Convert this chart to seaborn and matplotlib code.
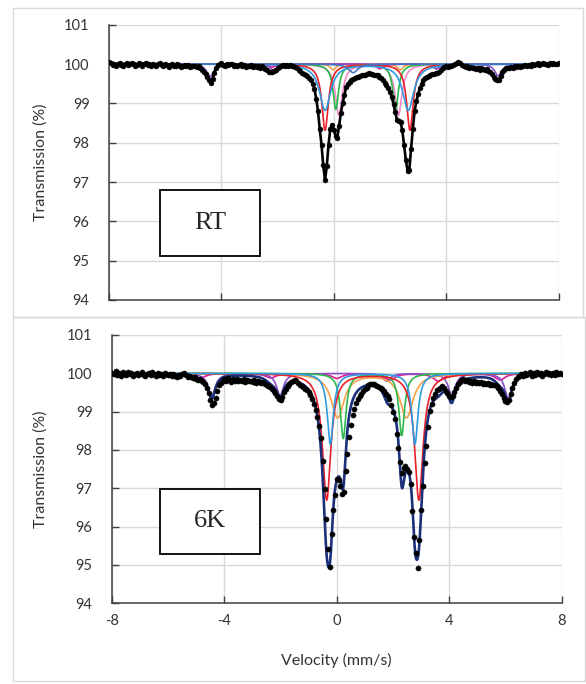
import numpy as np
import matplotlib
matplotlib.use("Agg")
import matplotlib.pyplot as plt
from matplotlib.patches import Rectangle
import seaborn as sns

# velocity channels (mm/s)
velocity = np.arange(257) * 0.0625 - 8.0

# measured transmission (%) - room temperature
rt_data = [
    100.05, 100.02, 99.98, 100.01, 99.96, 99.99, 100.03, 99.97, 99.95, 100.00, 100.02, 99.97, 99.99, 100.03, 100.01, 99.96,
    99.98, 100.02, 100.00, 99.95, 99.99, 100.03, 99.97, 100.00, 99.96, 100.01, 99.98, 99.94, 99.99, 100.02, 99.97, 99.96,
    100.00, 99.97, 99.93, 99.98, 100.01, 99.96, 99.95, 99.99, 99.97, 99.92, 99.96, 99.98, 99.94, 99.97, 99.93, 99.95,
    99.96, 99.94, 99.92, 99.95, 99.90, 99.86, 99.80, 99.74, 99.68, 99.60, 99.52, 99.63, 99.78, 99.90, 99.97, 99.99,
    100.02, 99.98, 99.95, 100.00, 99.97, 99.99, 100.01, 99.96, 99.98, 99.94, 99.97, 99.99, 99.95, 99.97, 99.93, 99.96,
    99.94, 99.97, 99.92, 99.95, 99.93, 99.96, 99.91, 99.94, 99.90, 99.87, 99.84, 99.81, 99.79, 99.80, 99.83, 99.86,
    99.90, 99.93, 99.95, 99.97, 99.96, 99.98, 99.95, 99.97, 99.94, 99.96, 99.93, 99.90, 99.86, 99.82, 99.77, 99.75,
    99.72, 99.69, 99.65, 99.59, 99.50, 99.36, 99.12, 98.80, 98.35, 97.95, 97.42, 97.05, 97.40, 97.95, 98.35, 98.46,
    98.33, 98.17, 98.12, 98.42, 98.75, 99.00, 99.20, 99.42, 99.50, 99.55, 99.59, 99.62, 99.65, 99.67, 99.68, 99.70,
    99.71, 99.72, 99.72, 99.74, 99.76, 99.75, 99.74, 99.73, 99.72, 99.71, 99.68, 99.65, 99.60, 99.53, 99.46, 99.38,
    99.28, 99.16, 98.98, 98.78, 98.57, 98.54, 98.52, 98.32, 97.95, 97.57, 97.28, 97.30, 97.85, 98.35, 98.80, 99.05,
    99.24, 99.38, 99.50, 99.59, 99.64, 99.68, 99.70, 99.72, 99.74, 99.75, 99.76, 99.77, 99.80, 99.84, 99.90, 99.93,
    99.95, 99.93, 99.96, 99.94, 99.97, 99.99, 100.03, 100.06, 100.02, 99.97, 99.95, 99.92, 99.94, 99.90, 99.92, 99.89,
    99.91, 99.88, 99.90, 99.86, 99.89, 99.87, 99.84, 99.87, 99.83, 99.80, 99.75, 99.68, 99.62, 99.60, 99.60, 99.70,
    99.80, 99.86, 99.89, 99.91, 99.90, 99.93, 99.91, 99.94, 99.92, 99.95, 99.93, 99.96, 99.94, 99.97, 99.95, 99.98,
    99.96, 100.00, 99.97, 99.99, 100.02, 99.98, 100.00, 100.03, 99.99, 100.01, 99.98, 100.02, 100.00, 100.03, 99.99, 100.01,
    100.02,
]

# measured transmission (%) - 6 K
k6_data = [
    100.02, 99.98, 100.05, 99.96, 100.01, 99.94, 100.03, 99.99, 99.95, 100.04, 99.97, 100.00, 99.93, 99.98, 100.02, 99.96,
    99.99, 100.03, 99.95, 99.92, 99.98, 100.01, 99.96, 100.04, 99.97, 99.93, 100.00, 99.96, 99.99, 99.94, 100.02, 99.97,
    99.95, 99.99, 99.92, 99.97, 99.94, 99.90, 99.96, 99.93, 99.98, 100.01, 99.95, 99.91, 99.94, 99.90, 99.87, 99.91,
    99.86, 99.83, 99.85, 99.80, 99.78, 99.72, 99.62, 99.48, 99.30, 99.18, 99.22, 99.35, 99.55, 99.70, 99.76, 99.80,
    99.84, 99.80, 99.87, 99.83, 99.78, 99.85, 99.81, 99.86, 99.79, 99.83, 99.80, 99.84, 99.77, 99.82, 99.79, 99.81,
    99.78, 99.82, 99.76, 99.80, 99.77, 99.74, 99.78, 99.72, 99.70, 99.68, 99.64, 99.60, 99.55, 99.48, 99.40, 99.33,
    99.30, 99.38, 99.50, 99.60, 99.66, 99.72, 99.78, 99.80, 99.82, 99.79, 99.76, 99.69, 99.67, 99.64, 99.60, 99.56,
    99.50, 99.44, 99.34, 99.20, 99.04, 98.86, 98.62, 98.30, 97.70, 96.98, 96.20, 95.42, 94.95, 95.80, 96.43, 96.83,
    97.25, 97.22, 97.05, 96.85, 96.90, 97.45, 97.90, 98.35, 98.65, 98.90, 99.08, 99.22, 99.32, 99.40, 99.47, 99.53,
    99.58, 99.61, 99.70, 99.73, 99.72, 99.71, 99.70, 99.68, 99.65, 99.61, 99.58, 99.53, 99.47, 99.41, 99.32, 99.18,
    99.00, 98.80, 98.42, 98.05, 97.69, 97.40, 97.52, 97.57, 97.50, 97.42, 97.10, 96.40, 95.72, 95.32, 94.92, 95.65,
    96.43, 97.05, 97.65, 98.10, 98.60, 99.02, 99.20, 99.35, 99.46, 99.56, 99.60, 99.62, 99.66, 99.62, 99.55, 99.48,
    99.42, 99.37, 99.40, 99.50, 99.62, 99.72, 99.78, 99.82, 99.85, 99.80, 99.83, 99.78, 99.81, 99.76, 99.80, 99.75,
    99.78, 99.74, 99.77, 99.72, 99.75, 99.71, 99.74, 99.70, 99.73, 99.69, 99.70, 99.66, 99.62, 99.55, 99.46, 99.36,
    99.28, 99.24, 99.30, 99.45, 99.62, 99.76, 99.85, 99.90, 99.93, 99.97, 99.92, 100.02, 99.95, 99.99, 100.04, 99.94,
    100.00, 99.96, 100.03, 99.98, 100.01, 99.93, 99.99, 100.04, 99.97, 100.02, 99.95, 100.00, 99.96, 100.03, 99.98, 100.01,
    99.99,
]

# fitted sub-spectra: line positions (mm/s), depths (%), half widths (mm/s)
rt_red_pos, rt_red_depth, rt_red_hw = [-0.31, 2.71], [1.68, 1.68], 0.14
rt_blue_pos, rt_blue_depth, rt_blue_hw = [-0.31, 2.65], [1.17, 1.17], 0.24
rt_green_pos, rt_green_depth, rt_green_hw = [0.07, 2.20], [1.15, 1.15], 0.12
rt_pink_pos, rt_pink_depth, rt_pink_hw = [0.18, 2.30], [1.30, 1.30], 0.15
rt_orange_pos, rt_orange_depth, rt_orange_hw = [-0.02, 2.36], [0.15, 0.15], 0.12
rt_steel_pos, rt_steel_depth, rt_steel_hw = [0.69], [0.22], 0.20
rt_magenta_pos, rt_magenta_depth, rt_magenta_hw = [-2.20, 1.64, 3.66], [0.08, 0.12, 0.12], 0.15
rt_purple_pos, rt_purple_depth, rt_purple_hw = [-4.40, -2.15, 3.66, 5.85], [0.32, 0.15, 0.12, 0.30], 0.15

k6_red_pos, k6_red_depth, k6_red_hw = [-0.36, 2.92], [3.30, 3.30], 0.18
k6_blue_pos, k6_blue_depth, k6_blue_hw = [-0.23, 2.78], [1.85, 1.85], 0.13
k6_orange_pos, k6_orange_depth, k6_orange_hw = [0.03, 2.48], [1.15, 1.15], 0.28
k6_green_pos, k6_green_depth, k6_green_hw = [0.23, 2.31], [1.70, 1.62], 0.12
k6_purple_pos, k6_purple_depth, k6_purple_hw = [-4.45, -2.02, 1.78, 4.09, 6.10], [0.62, 0.58, 0.20, 0.58, 0.65], 0.15
k6_magenta_pos, k6_magenta_depth, k6_magenta_hw = [-4.85, -2.35, 0.00, 1.89, 3.61, 5.81], [0.12, 0.12, 0.13, 0.17, 0.20, 0.17], 0.22

RED, BLUE, GREEN, PINK = "#e8202a", "#2e9ae0", "#2db84d", "#f28cc8"
ORANGE, STEEL, MAGENTA, PURPLE = "#f5a04a", "#4472c4", "#e6199b", "#8b4fc7"
NAVY = "#1b2f7a"

vfine = np.linspace(-8, 8, 1601)


def lorentz_sum(pos, depth, hw):
    out = np.zeros_like(vfine)
    for c, d in zip(pos, depth):
        out += d * hw**2 / ((vfine - c) ** 2 + hw**2)
    return out


sns.set_style("white")
plt.rcParams["font.family"] = ["Lato", "DejaVu Sans"]
plt.rcParams["axes.unicode_minus"] = False

fig = plt.figure(figsize=(5.86, 6.84), dpi=100)

# chart area borders
fig.add_artist(Rectangle((13 / 586, 1 - 317 / 684), 570 / 586, 309 / 684, transform=fig.transFigure,
                         fill=False, edgecolor="#d9d9d9", lw=1.0))
fig.add_artist(Rectangle((13 / 586, 1 - 681 / 684), 572 / 586, 364 / 684, transform=fig.transFigure,
                         fill=False, edgecolor="#d9d9d9", lw=1.0))

ax1 = fig.add_axes([109 / 586, 1 - 300 / 684, 449.6 / 586, 275.3 / 684])
ax2 = fig.add_axes([112 / 586, 1 - 603.3 / 684, 449.6 / 586, 268.3 / 684])

rt_comps = [
    (rt_orange_pos, rt_orange_depth, rt_orange_hw, ORANGE),
    (rt_magenta_pos, rt_magenta_depth, rt_magenta_hw, MAGENTA),
    (rt_purple_pos, rt_purple_depth, rt_purple_hw, PURPLE),
    (rt_pink_pos, rt_pink_depth, rt_pink_hw, PINK),
    (rt_green_pos, rt_green_depth, rt_green_hw, GREEN),
    (rt_red_pos, rt_red_depth, rt_red_hw, RED),
    (rt_blue_pos, rt_blue_depth, rt_blue_hw, BLUE),
    (rt_steel_pos, rt_steel_depth, rt_steel_hw, STEEL),
]
k6_comps = [
    (k6_magenta_pos, k6_magenta_depth, k6_magenta_hw, MAGENTA),
    (k6_purple_pos, k6_purple_depth, k6_purple_hw, PURPLE),
    (k6_orange_pos, k6_orange_depth, k6_orange_hw, ORANGE),
    (k6_green_pos, k6_green_depth, k6_green_hw, GREEN),
    (k6_red_pos, k6_red_depth, k6_red_hw, RED),
    (k6_blue_pos, k6_blue_depth, k6_blue_hw, BLUE),
]

# room temperature
for pos, dep, hw, col in rt_comps:
    sns.lineplot(x=vfine, y=100 - lorentz_sum(pos, dep, hw), ax=ax1, color=col, linewidth=1.2)
sns.lineplot(x=velocity, y=rt_data, ax=ax1, color="black", linewidth=1.9)
sns.scatterplot(x=velocity, y=rt_data, ax=ax1, color="black", s=13, edgecolor=None, zorder=5)

# 6 K
total = np.zeros_like(vfine)
for pos, dep, hw, col in k6_comps:
    comp = lorentz_sum(pos, dep, hw)
    total += comp
    sns.lineplot(x=vfine, y=100 - comp, ax=ax2, color=col, linewidth=1.2)
sns.lineplot(x=vfine, y=100 - total, ax=ax2, color=NAVY, linewidth=1.9)
sns.scatterplot(x=velocity, y=k6_data, ax=ax2, color="black", s=14, edgecolor=None, zorder=5)

for ax in (ax1, ax2):
    ax.set_xlim(-8, 8)
    ax.set_ylim(94, 101)
    ax.set_xticks([-8, -4, 0, 4, 8])
    ax.set_yticks(range(94, 102))
    ax.grid(True, color="#d9d9d9", linewidth=1.0)
    ax.set_axisbelow(True)
    for s in ["top", "right"]:
        ax.spines[s].set_visible(False)
    for s in ["left", "bottom"]:
        ax.spines[s].set_color("#404040")
        ax.spines[s].set_linewidth(1.1)
    ax.tick_params(direction="in", length=5, width=1.0, color="#404040", labelsize=10.5,
                   labelcolor="#333333", pad=14, left=True, bottom=True)
    ax.tick_params(axis="x", pad=8)
    ax.set_ylabel("Transmission (%)", fontsize=11.5, color="#333333")
    ax.set_xlabel("")

ax1.tick_params(axis="x", labelbottom=False)
ax1.yaxis.set_label_coords(-0.136, 0.5)
ax2.yaxis.set_label_coords(-0.142, 0.5)
ax2.set_xlabel("Velocity (mm/s)", fontsize=11.5, color="#333333")
ax2.xaxis.set_label_coords(0.5, -0.185)

# temperature labels
ax1.add_patch(Rectangle((0.113, 0.160), 0.223, 0.24, transform=ax1.transAxes, fill=True,
                        facecolor="white", edgecolor="black", lw=1.3, zorder=6))
ax1.text(0.2245, 0.28, "RT", transform=ax1.transAxes, ha="center", va="center",
         fontsize=19, family="Liberation Serif", zorder=7)
ax2.add_patch(Rectangle((0.107, 0.184), 0.222, 0.242, transform=ax2.transAxes, fill=True,
                        facecolor="white", edgecolor="black", lw=1.3, zorder=6))
ax2.text(0.218, 0.305, "6K", transform=ax2.transAxes, ha="center", va="center",
         fontsize=19, family="Liberation Serif", zorder=7)

fig.savefig("out.png", dpi=100)
